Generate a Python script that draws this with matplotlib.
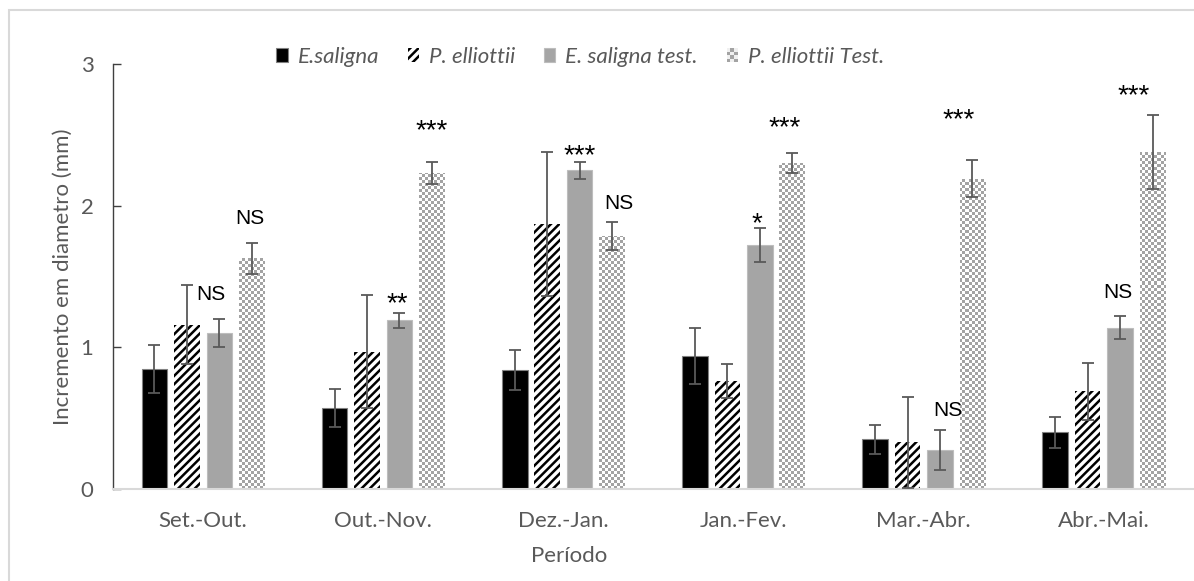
import numpy as np
import matplotlib
matplotlib.use("Agg")
import matplotlib.pyplot as plt
from matplotlib.patches import Rectangle
from matplotlib.legend_handler import HandlerBase
from matplotlib.font_manager import FontProperties
from matplotlib.colors import ListedColormap

# ---- data -------------------------------------------------------------
categories = ['Set.-Out.', 'Out.-Nov.', 'Dez.-Jan.', 'Jan.-Fev.', 'Mar.-Abr.', 'Abr.-Mai.']
series_names = ['E.saligna', 'P. elliottii', 'E. saligna test.', 'P. elliottii Test.']

e_saligna = [0.85, 0.57, 0.84, 0.94, 0.35, 0.40]
e_saligna_err = [0.17, 0.135, 0.14, 0.20, 0.10, 0.11]
p_elliottii = [1.16, 0.97, 1.87, 0.76, 0.33, 0.69]
p_elliottii_err = [0.28, 0.40, 0.51, 0.12, 0.32, 0.20]
e_saligna_test = [1.10, 1.19, 2.25, 1.72, 0.275, 1.14]
e_saligna_test_err = [0.10, 0.05, 0.06, 0.12, 0.14, 0.08]
p_elliottii_test = [1.63, 2.23, 1.785, 2.30, 2.19, 2.38]
p_elliottii_test_err = [0.11, 0.08, 0.10, 0.07, 0.13, 0.26]

# significance of each test series
sig_es_test = ['NS', '**', '***', '*', 'NS', 'NS']
sig_pe_test = ['NS', '***', 'NS', '***', '***', '***']

# where the significance marks sit (height of mark, sideways nudge)
sig_es_y = [1.39, 1.37, 2.41, 1.93, 0.57, 1.40]
sig_es_dx = [-0.044, -0.01, 0.0, -0.015, 0.045, -0.01]
sig_pe_y = [1.92, 2.59, 2.03, 2.61, 2.67, 2.84]
sig_pe_dx = [-0.01, 0.0, 0.04, -0.04, -0.078, -0.105]

y_ticks = [0, 1, 2, 3]

# ---- style ------------------------------------------------------------
plt.rcParams['font.family'] = ['Lato', 'DejaVu Sans']
plt.rcParams['hatch.linewidth'] = 1.8
text_gray = '#595959'
err_gray = '#595959'
checker_gray = '#a3a3a3'

W, H, DPI = 11.94, 5.81, 100
fig = plt.figure(figsize=(W, H), dpi=DPI)
ax_rect = [113 / 1194, 92 / 581, 1081 / 1194, 425 / 581]
ax = fig.add_axes(ax_rect)

x = np.arange(len(categories))
pitch = 0.18
width = 0.142
offsets = np.array([-1.5, -0.5, 0.5, 1.5]) * pitch

ax.set_xlim(-0.5, len(categories) - 0.5)
ax.set_ylim(0, 3)

b1 = ax.bar(x + offsets[0], e_saligna, width, color='black',
            edgecolor='#808080', linewidth=0.8, zorder=2)
b2 = ax.bar(x + offsets[1], p_elliottii, width, color='white',
            edgecolor='black', linewidth=0, hatch='////', zorder=2)
b3 = ax.bar(x + offsets[2], e_saligna_test, width, color='#a5a5a5',
            edgecolor='#bdbdbd', linewidth=0.8, zorder=2)
b4 = ax.bar(x + offsets[3], p_elliottii_test, width, color='white',
            edgecolor='none', linewidth=0, zorder=2)

# checkerboard fill for the last series: one pixel-grid image clipped to each bar
ax_w_px = int(round(ax_rect[2] * W * DPI))
ax_h_px = int(round(ax_rect[3] * H * DPI))
cell = 3
ny, nx = ax_h_px // cell + 1, ax_w_px // cell + 1
ii, jj = np.indices((ny, nx))
board = ((ii + jj) % 2).astype(float)
cmap = ListedColormap(['white', checker_gray])
x0, x1 = ax.get_xlim()
y0, y1 = ax.get_ylim()
ext_x1 = x0 + (x1 - x0) * nx * cell / ax_w_px
ext_y1 = y0 + (y1 - y0) * ny * cell / ax_h_px
for patch in b4.patches:
    im = ax.imshow(board, cmap=cmap, interpolation='nearest', aspect='auto',
                   extent=(x0, ext_x1, y0, ext_y1), origin='lower', zorder=2.1)
    im.set_clip_path(patch)
ax.set_xlim(x0, x1)
ax.set_ylim(y0, y1)

# error bars
for vals, errs, off in [(e_saligna, e_saligna_err, offsets[0]),
                        (p_elliottii, p_elliottii_err, offsets[1]),
                        (e_saligna_test, e_saligna_test_err, offsets[2]),
                        (p_elliottii_test, p_elliottii_test_err, offsets[3])]:
    ax.errorbar(x + off, vals, yerr=errs, fmt='none', ecolor=err_gray,
                elinewidth=1.3, capsize=4.3, capthick=1.3, zorder=3)

# significance marks
def put_mark(label, xc, yc):
    star = '*' in label
    size = 20 if star else 15
    k = 0.58 if star else 0.36
    ax.annotate(label, (xc, yc), xytext=(0, -k * size), textcoords='offset points',
                ha='center', va='baseline', fontsize=size, color='black',
                family=['Liberation Sans', 'DejaVu Sans'], zorder=4)

for i in range(len(categories)):
    put_mark(sig_es_test[i], x[i] + offsets[2] + sig_es_dx[i], sig_es_y[i])
    put_mark(sig_pe_test[i], x[i] + offsets[3] + sig_pe_dx[i], sig_pe_y[i])

# axes styling
for s in ['top', 'right']:
    ax.spines[s].set_visible(False)
ax.spines['left'].set_color('#404040')
ax.spines['left'].set_linewidth(1.0)
ax.spines['bottom'].set_color('#d9d9d9')
ax.spines['bottom'].set_linewidth(1.5)

ax.set_yticks(y_ticks)
ax.set_yticklabels([str(v) for v in y_ticks])
ax.tick_params(axis='y', direction='in', length=6, width=1, color='#404040',
               labelcolor=text_gray, labelsize=16, pad=14)
ax.set_xticks(x)
ax.set_xticklabels(categories)
ax.tick_params(axis='x', length=0, labelcolor=text_gray, labelsize=16, pad=16)

ax.set_xlabel('Período', fontsize=16, color=text_gray)
ax.xaxis.set_label_coords(0.422, -0.135)
ax.set_ylabel('Incremento em diametro (mm)', fontsize=16, color=text_gray)
ax.yaxis.set_label_coords(-0.037, 0.5)

# legend with a checker swatch for the last series
class CheckerHandler(HandlerBase):
    def create_artists(self, legend, orig_handle, xdescent, ydescent,
                       width, height, fontsize, trans):
        nx_, ny_ = 3, 4
        cw, ch = width / nx_, height / ny_
        arts = []
        for i in range(nx_):
            for j in range(ny_):
                c = checker_gray if (i + j) % 2 == 0 else '#f0f0f0'
                arts.append(Rectangle((-xdescent + i * cw, -ydescent + j * ch), cw, ch,
                                      facecolor=c, edgecolor='none', transform=trans))
        return arts

leg = fig.legend([b1, b2, b3, b4], series_names, loc='center',
                 bbox_to_anchor=(0.486, 1 - 57 / 581), ncol=4, frameon=False,
                 prop=FontProperties(family='Lato', style='italic', size=16),
                 handlelength=0.5, handleheight=0.6, handletextpad=0.45,
                 columnspacing=1.3, handler_map={b4: CheckerHandler()})
for t in leg.get_texts():
    t.set_color(text_gray)

# chart-area border
fig.patches.append(Rectangle((9 / 1194, -0.1), 1.2, 1.1 - 10 / 581,
                             transform=fig.transFigure, fill=False,
                             edgecolor='#d9d9d9', linewidth=1.5))

fig.savefig('out.png', dpi=DPI)
